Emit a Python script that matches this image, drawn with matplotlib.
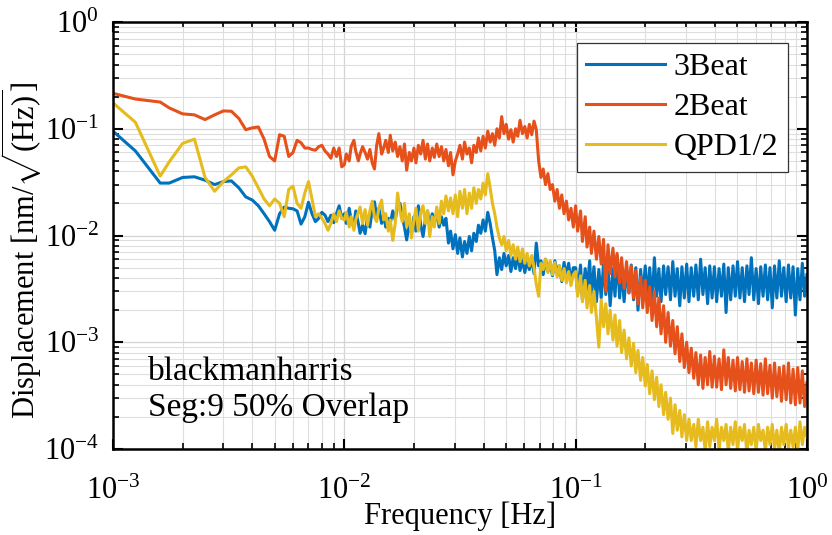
import matplotlib
matplotlib.use('Agg')
import matplotlib.pyplot as plt
import numpy as np

# frequency bins in mHz (low / mid / high ranges)
freq_lo = [1.0, 1.25, 1.6, 1.75, 2.0, 2.25, 2.5, 2.75, 3.0, 3.25, 3.5, 3.75,
           4.0, 4.25, 4.5, 4.75, 5.0, 5.25, 5.5, 5.75, 6.0, 6.25, 6.5, 6.75,
           7.0, 7.25, 7.5, 7.75, 8.0, 8.25, 8.5, 8.75, 9.0, 9.25, 9.5, 9.75]
freq_mid = [10.0, 10.2, 10.5, 10.7, 11.0, 11.2, 11.5, 11.7, 12.0, 12.3,
            12.6, 12.9, 13.2, 13.5, 13.8, 14.1, 14.5, 14.8, 15.1, 15.5,
            15.8, 16.2, 16.6, 17.0, 17.4, 17.8, 18.2, 18.6, 19.1, 19.5,
            20.0, 20.4, 20.9, 21.4, 21.9, 22.4, 22.9, 23.4, 24.0, 24.5,
            25.1, 25.7, 26.3, 26.9, 27.5, 28.2, 28.8, 29.5, 30.2, 30.9,
            31.6, 32.4, 33.1, 33.9, 34.7, 35.5, 36.3, 37.2, 38.0, 38.9,
            39.8, 40.7, 41.7, 42.7, 43.7, 44.7, 45.7, 46.8, 47.9, 49.0,
            50.1, 51.3, 52.5, 53.7, 55.0, 56.2, 57.5, 58.9, 60.3, 61.7,
            63.1, 64.6, 66.1, 67.6, 69.2, 70.8, 72.4, 74.1, 75.9, 77.6,
            79.4, 81.3, 83.2, 85.1, 87.1, 89.1, 91.2, 93.3, 95.5, 97.7]
freq_hi = [100, 102, 105, 107, 110, 112, 115, 117, 120, 123,
           126, 129, 132, 135, 138, 141, 145, 148, 151, 155,
           158, 162, 166, 170, 174, 178, 182, 186, 191, 195,
           200, 204, 209, 214, 219, 224, 229, 234, 240, 245,
           251, 257, 263, 269, 275, 282, 288, 295, 302, 309,
           316, 324, 331, 339, 347, 355, 363, 372, 380, 389,
           398, 407, 417, 427, 437, 447, 457, 468, 479, 490,
           501, 513, 525, 537, 550, 562, 575, 589, 603, 617,
           631, 646, 661, 676, 692, 708, 724, 741, 759, 776,
           794, 813, 832, 851, 871, 891, 912, 933, 955, 977, 1000]

# 3Beat (nm/rtHz)
beat3_lo = [0.095, 0.062, 0.031, 0.031, 0.035, 0.0355, 0.033, 0.030, 0.032, 0.0325,
            0.028, 0.023, 0.0215, 0.019, 0.016, 0.0135, 0.0112, 0.016, 0.0185, 0.018,
            0.0178, 0.017, 0.0128, 0.015, 0.0205, 0.016, 0.0135, 0.0145, 0.0165, 0.0155,
            0.0135, 0.0155, 0.0132, 0.016, 0.019, 0.0145]
beat3_mid = [0.016, 0.013, 0.018, 0.014, 0.012, 0.017, 0.013, 0.0105, 0.0125, 0.0104,
             0.015, 0.012, 0.0175, 0.0207, 0.015, 0.018, 0.013, 0.016, 0.012, 0.0145,
             0.013, 0.017, 0.014, 0.0195, 0.02, 0.015, 0.012, 0.0091, 0.013, 0.0105,
             0.015, 0.011, 0.019, 0.0125, 0.0098, 0.014, 0.017, 0.012, 0.016, 0.013,
             0.0165, 0.012, 0.015, 0.0125, 0.0145, 0.0085, 0.011, 0.0075, 0.0102, 0.0068,
             0.0095, 0.0063, 0.0088, 0.0068, 0.0098, 0.0072, 0.0105, 0.0088, 0.0125, 0.0105,
             0.014, 0.011, 0.0165, 0.013, 0.0095, 0.0072, 0.0043, 0.0062, 0.0048, 0.0068,
             0.0052, 0.0065, 0.0046, 0.0062, 0.0049, 0.0068, 0.0047, 0.006, 0.0045, 0.0058,
             0.0048, 0.0062, 0.0044, 0.0085, 0.0052, 0.0058, 0.0043, 0.006, 0.0046, 0.0055,
             0.0042, 0.0058, 0.0046, 0.0052, 0.0037, 0.0056, 0.0042, 0.0055, 0.0036, 0.005]
beat3_hi = [0.005, 0.0029, 0.0053, 0.0025, 0.0049, 0.003, 0.0058, 0.0027, 0.0051, 0.0024,
            0.0048, 0.0026, 0.0054, 0.0028, 0.005, 0.0022, 0.0049, 0.0027, 0.0065, 0.0026,
            0.0051, 0.0024, 0.0049, 0.0029, 0.0053, 0.0025, 0.005, 0.002, 0.0048, 0.0027,
            0.0052, 0.0026, 0.005, 0.0023, 0.0062, 0.0027, 0.0049, 0.0024, 0.0052, 0.0028,
            0.0051, 0.0025, 0.0057, 0.0027, 0.0049, 0.0022, 0.0051, 0.0026, 0.0054, 0.0024,
            0.005, 0.0027, 0.0053, 0.0025, 0.006, 0.0028, 0.005, 0.0023, 0.0052, 0.0026,
            0.0051, 0.0024, 0.0049, 0.0027, 0.0054, 0.0019, 0.005, 0.0025, 0.0052, 0.0027,
            0.0057, 0.0026, 0.005, 0.0024, 0.0052, 0.0028, 0.0062, 0.0025, 0.0049, 0.0023,
            0.0051, 0.0027, 0.0053, 0.0025, 0.005, 0.0021, 0.0052, 0.0026, 0.0058, 0.0027,
            0.005, 0.0024, 0.0053, 0.0026, 0.0051, 0.0018, 0.0049, 0.0025, 0.0055, 0.0027,
            0.0043]

# 2Beat
beat2_lo = [0.215, 0.19, 0.178, 0.157, 0.138, 0.135, 0.122, 0.135, 0.147, 0.146,
            0.125, 0.098, 0.102, 0.104, 0.08, 0.055, 0.05, 0.088, 0.085, 0.055,
            0.06, 0.078, 0.074, 0.066, 0.066, 0.064, 0.063, 0.068, 0.07, 0.062,
            0.058, 0.053, 0.066, 0.055, 0.066, 0.044]
beat2_mid = [0.046, 0.058, 0.05, 0.068, 0.078, 0.062, 0.05, 0.058, 0.068, 0.06,
             0.052, 0.064, 0.048, 0.042, 0.07, 0.09, 0.058, 0.066, 0.078, 0.06,
             0.087, 0.062, 0.075, 0.055, 0.068, 0.05, 0.072, 0.041, 0.06, 0.05,
             0.066, 0.048, 0.07, 0.058, 0.078, 0.052, 0.072, 0.05, 0.066, 0.054,
             0.072, 0.055, 0.068, 0.05, 0.064, 0.045, 0.06, 0.037, 0.05, 0.058,
             0.07, 0.052, 0.075, 0.058, 0.066, 0.048, 0.07, 0.06, 0.082, 0.062,
             0.085, 0.066, 0.095, 0.075, 0.09, 0.07, 0.1, 0.082, 0.13, 0.09,
             0.11, 0.08, 0.098, 0.075, 0.1, 0.085, 0.12, 0.09, 0.105, 0.082,
             0.11, 0.088, 0.118, 0.098, 0.05, 0.035, 0.042, 0.03, 0.038, 0.027,
             0.03, 0.021, 0.027, 0.018, 0.024, 0.016, 0.021, 0.014, 0.018, 0.012]
beat2_hi = [0.019, 0.011, 0.017, 0.0088, 0.015, 0.0078, 0.012, 0.0068, 0.011, 0.006,
            0.0098, 0.0054, 0.0092, 0.003, 0.0082, 0.0044, 0.0076, 0.0041, 0.0068, 0.0036,
            0.0062, 0.0032, 0.0057, 0.0029, 0.0052, 0.0026, 0.0047, 0.0023, 0.0041, 0.0021,
            0.0038, 0.0019, 0.0033, 0.0016, 0.003, 0.0014, 0.0026, 0.0012, 0.0022, 0.001,
            0.0019, 0.00092, 0.0016, 0.00078, 0.0014, 0.00066, 0.0012, 0.00058, 0.001, 0.00052,
            0.00088, 0.00046, 0.0008, 0.0004, 0.00076, 0.00037, 0.00072, 0.0004, 0.00082, 0.00038,
            0.00074, 0.00038, 0.0007, 0.00036, 0.00085, 0.0004, 0.00072, 0.00037, 0.00068, 0.00035,
            0.00072, 0.00036, 0.00066, 0.00034, 0.0007, 0.00035, 0.00064, 0.00033, 0.00068, 0.00034,
            0.00063, 0.00032, 0.0007, 0.00033, 0.00061, 0.0003, 0.00064, 0.00031, 0.00058, 0.00028,
            0.0006, 0.00029, 0.00064, 0.00027, 0.00056, 0.00026, 0.00058, 0.00027, 0.00054, 0.00025,
            0.00042]

# QPD1/2
qpd_lo = [0.175, 0.115, 0.036, 0.049, 0.073, 0.08, 0.035, 0.026, 0.032, 0.037,
          0.043, 0.044, 0.036, 0.028, 0.022, 0.019, 0.022, 0.02, 0.015, 0.027,
          0.029, 0.02, 0.018, 0.025, 0.032, 0.022, 0.015, 0.016, 0.0145, 0.013,
          0.0112, 0.013, 0.016, 0.0135, 0.017, 0.0145]
qpd_mid = [0.014, 0.0165, 0.012, 0.015, 0.0112, 0.014, 0.0165, 0.0185, 0.013, 0.0175,
           0.0125, 0.017, 0.021, 0.015, 0.0135, 0.018, 0.0215, 0.014, 0.016, 0.011,
           0.014, 0.009, 0.013, 0.025, 0.017, 0.0135, 0.02, 0.012, 0.016, 0.0095,
           0.014, 0.018, 0.011, 0.0165, 0.019, 0.013, 0.017, 0.0098, 0.015, 0.012,
           0.0185, 0.013, 0.021, 0.016, 0.0235, 0.017, 0.0225, 0.016, 0.024, 0.015,
           0.026, 0.018, 0.027, 0.016, 0.025, 0.018, 0.028, 0.02, 0.027, 0.022,
           0.031, 0.024, 0.038, 0.028, 0.02, 0.016, 0.012, 0.0095, 0.0082, 0.0098,
           0.0072, 0.009, 0.0065, 0.0082, 0.006, 0.0078, 0.0057, 0.0075, 0.0055, 0.0068,
           0.0052, 0.0065, 0.005, 0.0035, 0.0027, 0.0055, 0.0048, 0.006, 0.0045, 0.0058,
           0.0043, 0.0056, 0.0041, 0.0052, 0.0038, 0.0049, 0.0036, 0.0046, 0.0034, 0.0043]
qpd_hi = [0.0046, 0.0027, 0.0042, 0.0024, 0.0038, 0.0021, 0.0034, 0.0019, 0.003, 0.0017,
          0.0009, 0.0025, 0.0014, 0.0023, 0.0012, 0.002, 0.00105, 0.0018, 0.00092, 0.0016,
          0.0008, 0.0013, 0.0007, 0.0011, 0.0006, 0.00098, 0.00052, 0.00084, 0.00044, 0.00072,
          0.00039, 0.00062, 0.00033, 0.00054, 0.00029, 0.00047, 0.00025, 0.0004, 0.00021, 0.00034,
          0.00019, 0.0003, 0.00014, 0.00026, 0.00015, 0.00023, 0.00013, 0.00021, 0.00012, 0.00019,
          0.00012, 0.00017, 0.000105, 0.00019, 0.00012, 0.00016, 0.000095, 0.00018, 0.000105, 0.00016,
          0.00012, 0.00019, 0.000098, 0.00016, 0.00012, 0.00017, 0.000095, 0.00016, 0.00011, 0.00018,
          0.000098, 0.00016, 0.00012, 0.00017, 0.00009, 0.00015, 0.00011, 0.00016, 0.000095, 0.00017,
          0.00012, 0.00015, 0.000095, 0.00016, 0.00011, 0.00017, 0.0001, 0.00015, 0.00009, 0.00016,
          0.00011, 0.00017, 0.0001, 0.00015, 0.000105, 0.00016, 0.000095, 0.00018, 0.00011, 0.00016,
          0.00013]

freq = np.array(freq_lo + freq_mid + freq_hi) / 1000.0
series = [
    ('3Beat', beat3_lo + beat3_mid + beat3_hi, '#0072BD'),
    ('2Beat', beat2_lo + beat2_mid + beat2_hi, '#E6501B'),
    ('QPD1/2', qpd_lo + qpd_mid + qpd_hi, '#E5BB1D'),
]

plt.rcParams['font.family'] = ['Liberation Serif', 'DejaVu Serif']
plt.rcParams['mathtext.fontset'] = 'custom'
plt.rcParams['mathtext.rm'] = 'Liberation Serif'
plt.rcParams['mathtext.it'] = 'Liberation Serif:italic'
plt.rcParams['mathtext.bf'] = 'Liberation Serif:bold'

fig = plt.figure(figsize=(8.32, 5.35), dpi=100)
ax = fig.add_axes([0.1358, 0.1607, 0.8341, 0.7981])

for name, vals, col in series:
    ax.loglog(freq, vals, color=col, lw=2.2, label=name)

ax.set_xlim(1e-3, 1)
ax.set_ylim(1e-4, 1)

ax.grid(True, which='major', color='#d4d4d4', lw=0.9)
ax.grid(True, which='minor', color='#dedede', lw=0.8)
ax.set_axisbelow(True)

ax.tick_params(which='both', direction='in', top=True, right=True, labelsize=22)
ax.tick_params(which='major', length=7, width=1.5)
ax.tick_params(which='minor', length=4, width=1.2)
ax.tick_params(axis='x', pad=20)
ax.tick_params(axis='y', pad=10)
for s in ax.spines.values():
    s.set_linewidth(1.8)

ax.set_xlabel('Frequency [Hz]', fontsize=22, labelpad=-3)
ax.set_ylabel(r'Displacement [nm/$\sqrt{(\mathrm{Hz})}$]', fontsize=22)
ax.yaxis.set_label_coords(-0.099, 0.466)

leg = ax.legend(loc='upper right', bbox_to_anchor=(0.972, 0.951), borderaxespad=0,
                fontsize=23, handlelength=2.47, handletextpad=0.25, labelspacing=0.34,
                borderpad=0.3, fancybox=False, framealpha=1, edgecolor='#333333')
leg.get_frame().set_linewidth(0.9)

ax.text(0.05, 0.06, 'blackmanharris\nSeg:9 50% Overlap', transform=ax.transAxes,
        fontsize=24, va='bottom', ha='left', linespacing=1.25)

fig.savefig('out.png', dpi=100)
